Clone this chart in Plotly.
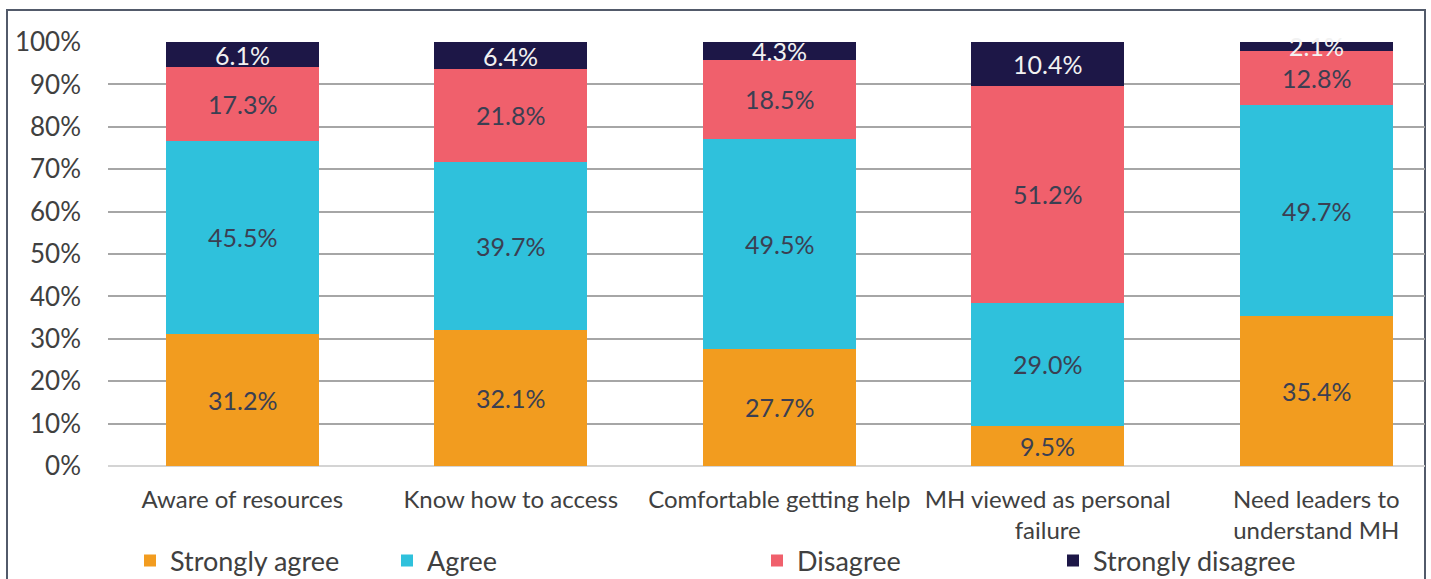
import plotly.graph_objects as go

categories = ["Aware of resources", "Know how to access", "Comfortable getting help",
              "MH viewed as personal<br>failure", "Need leaders to<br>understand MH"]
series_names = ["Strongly agree", "Agree", "Disagree", "Strongly disagree"]
strongly_agree = [31.2, 32.1, 27.7, 9.5, 35.4]
agree = [45.5, 39.7, 49.5, 29.0, 49.7]
disagree = [17.3, 21.8, 18.5, 51.2, 12.8]
strongly_disagree = [6.1, 6.4, 4.3, 10.4, 2.1]
y_ticks = [0, 10, 20, 30, 40, 50, 60, 70, 80, 90, 100]

values = [strongly_agree, agree, disagree, strongly_disagree]
colors = ["#F29C1F", "#2FC1DC", "#F0606C", "#1D1747"]
text_colors = ["#3b3f52", "#3b3f52", "#3b3f52", "#f2f2f2"]
legend_ids = ["legend", "legend2", "legend3", "legend4"]

FONT = "Lato"
W, H = 1431, 579
L, R, T, B = 108, 6, 42, 113
pw, ph = W - L - R, H - T - B

def px_x(x):
    return (x - L) / pw

def px_y(y):
    return (H - B - y) / ph

fig = go.Figure()
annotations = []
base = [0.0] * len(categories)
for name, vals, c, tc, lg in zip(series_names, values, colors, text_colors, legend_ids):
    tf = dict(family=FONT, size=25, color=tc)
    fig.add_trace(go.Bar(
        name=name, x=list(range(len(categories))), y=vals,
        marker=dict(color=c, line=dict(width=0)),
        width=0.57,
        textposition="none",
        legend=lg, cliponaxis=False,
    ))
    for i, v in enumerate(vals):
        annotations.append(dict(
            x=i, y=base[i] + v / 2, xref="x", yref="y",
            text=f"{v:.1f}%", showarrow=False, font=tf,
            xanchor="center", yanchor="middle",
        ))
        base[i] += v

legend_text_x = [170, 427, 797, 1093]
leg_common = dict(orientation="h", yanchor="middle", xanchor="left",
                  font=dict(family=FONT, size=27, color="#404040"),
                  bgcolor="rgba(0,0,0,0)", itemwidth=30)
layout_legends = {}
for lg, tx in zip(legend_ids, legend_text_x):
    layout_legends[lg] = dict(leg_common, x=px_x(tx - 40), y=px_y(561))

fig.update_layout(
    width=W, height=H,
    margin=dict(l=L, r=R, t=T, b=B, pad=0, autoexpand=False),
    barmode="stack",
    plot_bgcolor="white", paper_bgcolor="white",
    font=dict(family=FONT, color="#404040"),
    xaxis=dict(
        tickmode="array", tickvals=list(range(len(categories))), ticktext=categories,
        range=[-0.5, -0.5 + pw / 268.5],
        showgrid=False, showline=False, zeroline=False, automargin=False,
        tickfont=dict(family=FONT, size=24, color="#404040"),
        ticks="", ticklabelstandoff=17,
    ),
    yaxis=dict(
        range=[0, 100], tickvals=y_ticks, ticktext=[f"{v}%" for v in y_ticks],
        showgrid=True, gridcolor="#a6a6a6", gridwidth=1.5,
        zeroline=True, zerolinecolor="#d4d4d4", zerolinewidth=1.5,
        showline=False, automargin=False,
        tickfont=dict(family=FONT, size=26, color="#404040"),
        ticks="", ticklabelstandoff=26,
    ),
    showlegend=True,
    **layout_legends,
    annotations=annotations,
    shapes=[dict(type="rect", xref="paper", yref="paper",
                 x0=px_x(7), x1=px_x(1425), y0=px_y(600), y1=px_y(10),
                 line=dict(color="#525a6a", width=2), fillcolor="rgba(0,0,0,0)",
                 layer="below")],
)

fig.write_html("out.html", config={"displayModeBar": False},
               post_script="document.body.style.margin='0';document.body.style.overflow='hidden';")
